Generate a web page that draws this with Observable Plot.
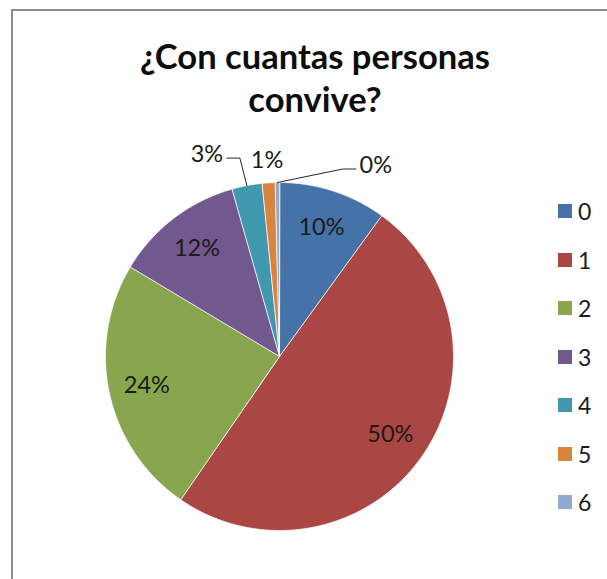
<!DOCTYPE html>
<html>
<head>
<meta charset="utf-8">
<script src="https://cdn.jsdelivr.net/npm/d3@7"></script>
<script src="https://cdn.jsdelivr.net/npm/@observablehq/plot@0.6"></script>
<style>
  html, body { margin: 0; padding: 0; background: #fff; overflow: hidden; }
  #wrap { position: relative; width: 607px; height: 579px; overflow: hidden; background: #fff; }
  #frame { position: absolute; left: 11px; top: 9px; width: 800px; height: 800px; border: 2px solid #8c8c8c; box-sizing: border-box; }
  #chart { position: absolute; left: 0; top: 0; }
  #title { position: absolute; left: 115px; width: 400px; top: 0; text-align: center;
           font-family: Lato, "Open Sans", sans-serif; font-weight: bold; color: #0d0d0d; }
  #title div { position: absolute; left: 0; width: 400px; white-space: nowrap; }
  #legend { position: absolute; left: 558px; top: 187px; }
  .lg-swatch { height: 48.5px; padding-bottom: 0 !important; }
  .lg-swatch > svg { margin-right: 6px !important; }
  .lg-swatch-label { font-family: Lato, sans-serif; font-size: 23px; color: #1a1a1a; }
</style>
</head>
<body>
<div id="wrap">
  <div id="frame"></div>
  <div id="chart"></div>
  <div id="title"></div>
  <div id="legend"></div>
</div>
<script>
// ---- data ----
const titleLines = ["¿Con cuantas personas", "convive?"];
const categories = ["0", "1", "2", "3", "4", "5", "6"];
const counts = [25, 124, 60, 30, 7, 3, 1];
const colors = ["#4572a7", "#aa4643", "#89a54e", "#71588f", "#4198af", "#db843d", "#93a9cf"];

// ---- layout (pixels) ----
const cx = 279, cy = 356, R = 174;
const insideR = 0.78;
// pixel nudges of the outside labels from the slice's outer mid-point
const outsideNudge = {"4": [-40, -31], "5": [-1.5, -22], "6": [98.5, -17]};

// ---- derived geometry in data units (unit circle) ----
const total = d3.sum(counts);
const fmt = d3.format(".0%");
const arcs = d3.pie().sort(null).value(d => d)(counts);

const slicePts = [];
arcs.forEach((a, i) => {
  const cat = categories[i];
  slicePts.push({cat, x: 0, y: 0});
  const n = Math.max(2, Math.ceil((a.endAngle - a.startAngle) / (Math.PI / 720)));
  for (let k = 0; k <= n; ++k) {
    const t = a.startAngle + (a.endAngle - a.startAngle) * k / n;
    slicePts.push({cat, x: Math.sin(t), y: Math.cos(t)});
  }
});

const labels = [];
const leaders = [];
arcs.forEach((a, i) => {
  const cat = categories[i];
  const mid = (a.startAngle + a.endAngle) / 2;
  const text = fmt(counts[i] / total);
  const nudge = outsideNudge[cat];
  if (!nudge) {
    labels.push({cat, text, x: insideR * Math.sin(mid), y: insideR * Math.cos(mid)});
  } else {
    const ax = Math.sin(mid), ay = Math.cos(mid);
    const lx = ax + nudge[0] / R, ly = ay - nudge[1] / R;
    labels.push({cat, text, x: lx, y: ly});
    if (Math.hypot(nudge[0], nudge[1]) > 30) {
      const side = Math.sign(nudge[0]);
      const ex = lx - side * 20 / R, ey = ly - 3.5 / R;
      const bx = ex - side * 13 / R;
      leaders.push({cat, x: ex, y: ey}, {cat, x: bx, y: ey}, {cat, x: ax, y: ay});
    }
  }
});

const plot = Plot.plot({
  width: 607,
  height: 579,
  margin: 0,
  x: {domain: [-1, 1], range: [cx - R, cx + R], axis: null},
  y: {domain: [-1, 1], range: [cy + R, cy - R], axis: null},
  color: {domain: categories, range: colors},
  style: {background: "transparent", fontFamily: "Lato, sans-serif", overflow: "visible"},
  marks: [
    Plot.line(slicePts, {x: "x", y: "y", z: "cat", fill: "cat", stroke: "#ffffff", strokeWidth: 1, strokeOpacity: 0.8, curve: "linear-closed"}),
    Plot.line(leaders, {x: "x", y: "y", z: "cat", stroke: "#262626", strokeWidth: 1}),
    Plot.text(labels, {x: "x", y: "y", text: "text", fontSize: 23.5, fill: "#1a1a1a"})
  ]
});
document.getElementById("chart").appendChild(plot);

// title, fitted to the reference's line width
const canvas = document.createElement("canvas").getContext("2d");
canvas.font = "bold 33px Lato";
const w = canvas.measureText(titleLines[0]).width;
const fs = Math.min(40, 33 * 350 / w);
const title = document.getElementById("title");
title.style.fontSize = fs + "px";
const baselines = [67, 110];
titleLines.forEach((t, i) => {
  const d = document.createElement("div");
  d.textContent = t;
  d.style.lineHeight = "1";
  d.style.top = (baselines[i] - fs * 0.80) + "px";
  title.appendChild(d);
});

// legend
const legend = Plot.legend({
  color: {type: "ordinal", domain: categories, range: colors},
  legend: "swatches",
  columns: 1,
  swatchSize: 14,
  className: "lg",
  style: {fontFamily: "Lato, sans-serif", fontSize: "23px", margin: 0}
});
document.getElementById("legend").appendChild(legend);
</script>
</body>
</html>
